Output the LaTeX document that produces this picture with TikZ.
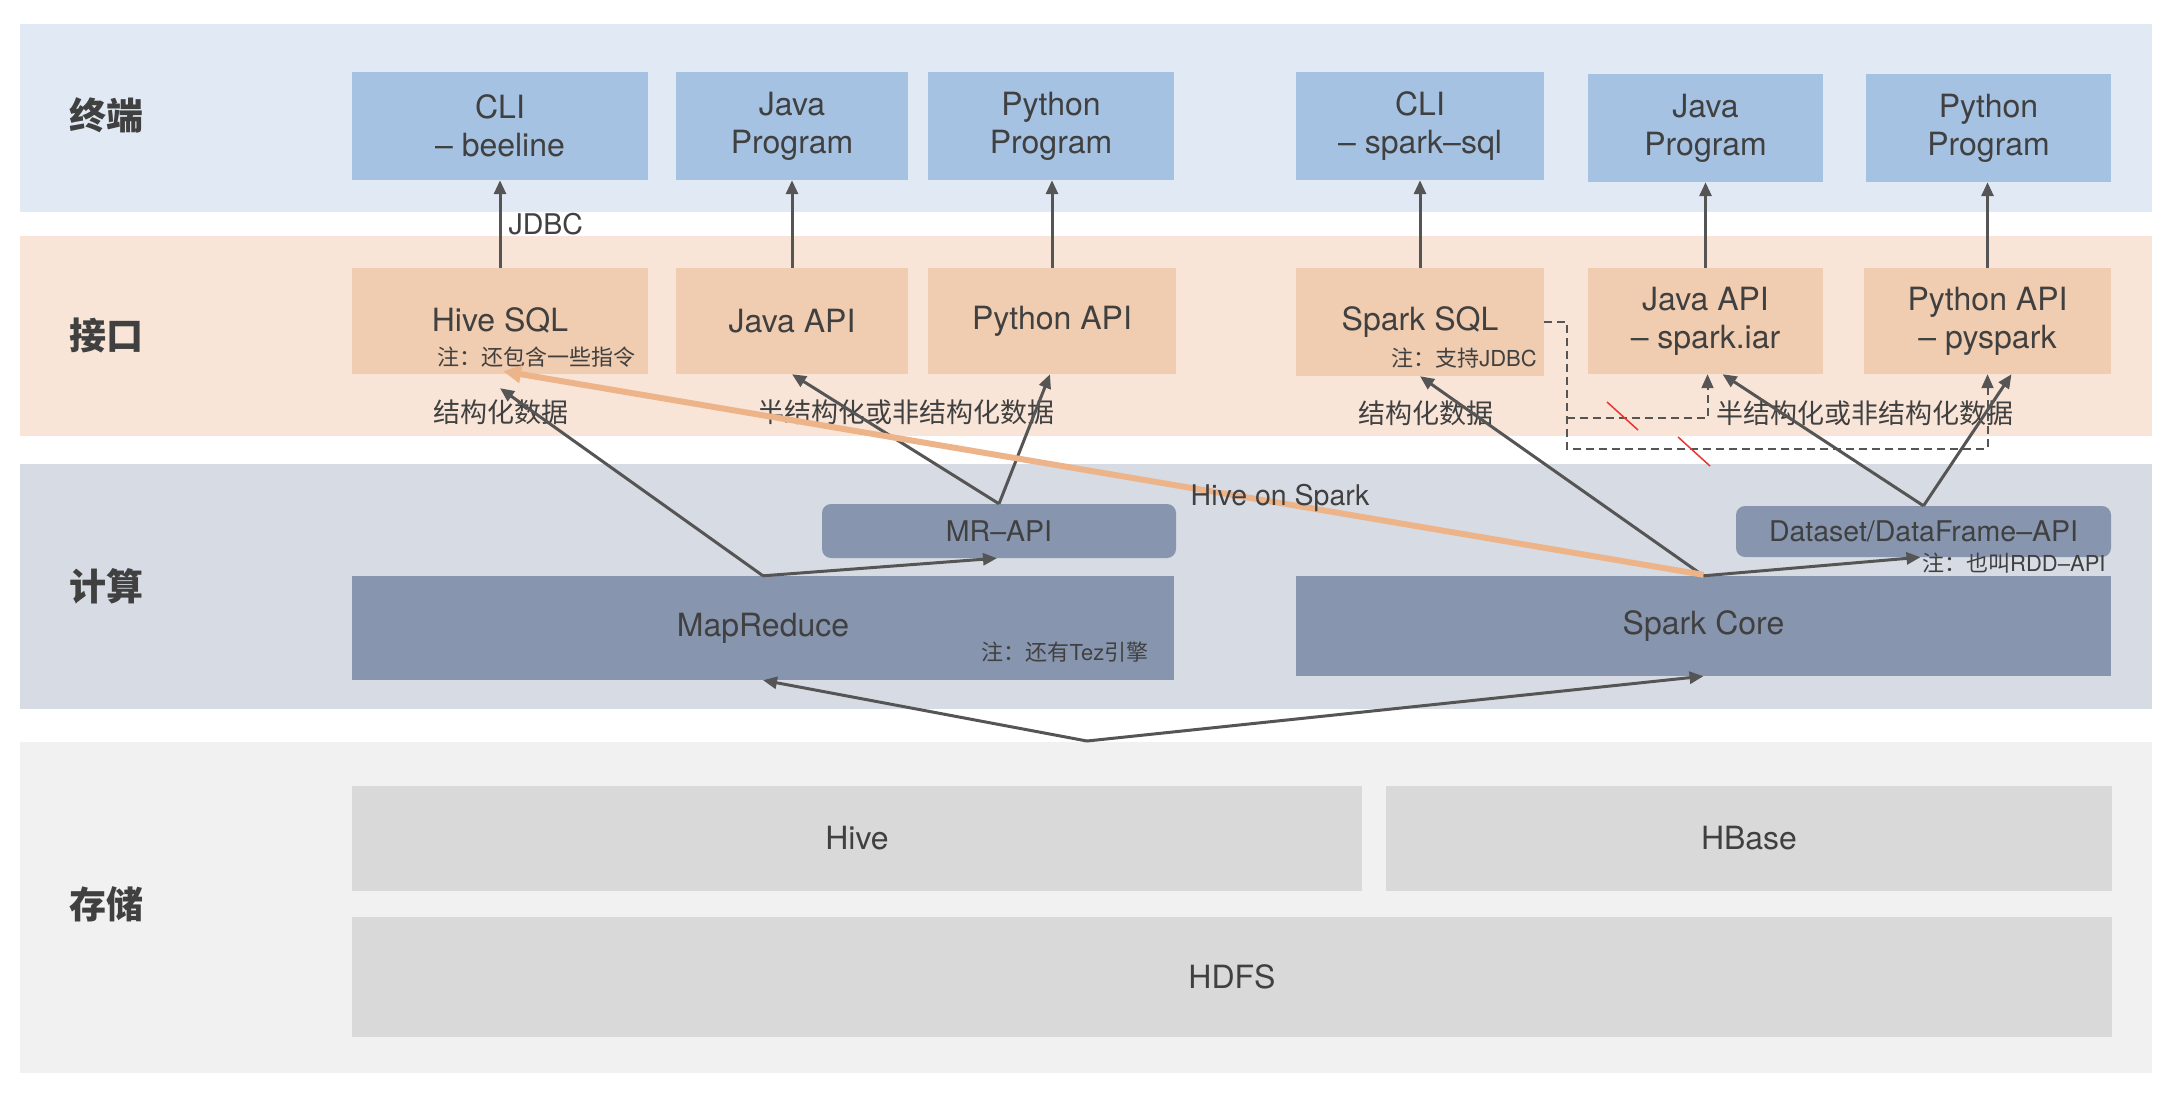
\documentclass[tikz,border=0pt]{standalone}
\usepackage{fontspec}
\setmainfont{TeX Gyre Heros}
\newfontfamily\cjk{Noto Sans CJK SC}
\usetikzlibrary{arrows.meta,calc}
\definecolor{bandT}{HTML}{E1EAF4}
\definecolor{bandI}{HTML}{F8E5D8}
\definecolor{bandC}{HTML}{D7DCE4}
\definecolor{bandS}{HTML}{F1F1F1}
\definecolor{boxT}{HTML}{A5C2E2}
\definecolor{boxI}{HTML}{F0CCB0}
\definecolor{boxC}{HTML}{8796AE}
\definecolor{boxS}{HTML}{D9D9D9}
\definecolor{txt}{HTML}{404040}
\definecolor{arr}{HTML}{555555}
\definecolor{org}{HTML}{EDB48A}
\definecolor{slash}{HTML}{E8352E}
\tikzset{
  blk/.style={fill=#1, draw=none, inner sep=0pt, align=center, text=txt,
    font=\fontsize{32}{38}\selectfont},
  lbl/.style={text=txt, inner sep=0pt, font=\fontsize{27}{32}\selectfont\cjk},
  small/.style={text=txt, inner sep=0pt, font=\fontsize{28.5}{32}\selectfont},
  notetxt/.style={text=txt, inner sep=0pt, font=\fontsize{22}{26}\selectfont},
  layer/.style={text=txt, inner sep=0pt, font=\fontsize{37}{44}\selectfont\cjk\bfseries},
  conn/.style={draw=arr, line width=3pt, -{Triangle[length=14pt,width=12pt]}},
  hos/.style={draw=org, line width=6pt, -{Triangle[length=18pt,width=17pt]}},
  dconn/.style={draw=arr, line width=2pt, dash pattern=on 8pt off 5pt,
    -{Triangle[length=14pt,width=12pt]}},
}
\begin{document}
\begin{tikzpicture}[x=1pt,y=-1pt]
\useasboundingbox[fill=white] (0,0) rectangle (2178,1104);
% bands
\fill[bandT] (20,24) rectangle (2152,212);
\fill[bandI] (20,236) rectangle (2152,436);
\fill[bandC] (20,464) rectangle (2152,709);
\fill[bandS] (20,742) rectangle (2152,1073);
% layer labels
\node[layer] (L1) at (106,115) {终端};
\node[layer] (L2) at (106,335) {接口};
\node[layer] (L3) at (106,586) {计算};
\node[layer] (L4) at (106,904) {存储};
% terminal boxes
\node[blk=boxT, minimum width=296pt, minimum height=108pt] (cli1) at (500,126) {CLI\\– beeline};
\node[blk=boxT, minimum width=232pt, minimum height=108pt] (jprog1) at (792,126) {Java\\Program};
\node[blk=boxT, minimum width=246pt, minimum height=108pt] (pprog1) at (1051,126) {Python\\Program};
\node[blk=boxT, minimum width=248pt, minimum height=108pt] (cli2) at (1420,126) {CLI\\– spark–sql};
\node[blk=boxT, minimum width=235pt, minimum height=108pt] (jprog2) at (1705.5,128) {Java\\Program};
\node[blk=boxT, minimum width=245pt, minimum height=108pt] (pprog2) at (1988.5,128) {Python\\Program};
% interface boxes
\node[blk=boxI, minimum width=296pt, minimum height=106pt] (hsql) at (500,321) {};
\node[blk=boxI, minimum width=232pt, minimum height=106pt] (japi1) at (792,321) {Java API};
\node[blk=boxI, minimum width=248pt, minimum height=106pt] (papi1) at (1052,321) {Python API};
\node[blk=boxI, minimum width=248pt, minimum height=108pt] (ssql) at (1420,322) {};
\node[blk=boxI, minimum width=235pt, minimum height=106pt] (japi2) at (1705.5,321) {Java API\\– spark.iar};
\node[blk=boxI, minimum width=247pt, minimum height=106pt] (papi2) at (1987.5,321) {Python API\\– pyspark};
\node[blk=boxI, fill=none] (hsqlT) at (500,320) {Hive SQL};
\node[notetxt] (hsqlN) at (536,357) {\cjk 注：还包含一些指令};
\node[blk=boxI, fill=none] (ssqlT) at (1420,322) {Spark SQL};
\node[notetxt] (ssqlN) at (1464,358) {{\cjk 注：支持}JDBC};
% compute boxes
\node[blk=boxC, minimum width=354pt, minimum height=54pt, rounded corners=9pt, font=\fontsize{28.5}{32}\selectfont] (mrapi) at (999,531) {MR–API};
\node[blk=boxC, minimum width=822pt, minimum height=104pt] (mr) at (763,628) {MapReduce};
\node[blk=boxC, minimum width=375pt, minimum height=51pt, rounded corners=9pt, font=\fontsize{28.5}{32}\selectfont] (dsapi) at (1923.5,531.5) {Dataset/DataFrame–API};
\node[blk=boxC, minimum width=815pt, minimum height=100pt] (score) at (1703.5,626) {Spark Core};
\node[notetxt] (mrN) at (1065,652) {{\cjk 注：还有}Tez{\cjk 引擎}};
\node[notetxt, anchor=west] (dsN) at (1922,563) {{\cjk 注：也叫}RDD–API};
% storage boxes
\node[blk=boxS, minimum width=1010pt, minimum height=105pt] (hive) at (857,838.5) {Hive};
\node[blk=boxS, minimum width=726pt, minimum height=105pt] (hbase) at (1749,838.5) {HBase};
\node[blk=boxS, minimum width=1760pt, minimum height=120pt] (hdfs) at (1232,977) {HDFS};
% data labels
\node[lbl] (sd1) at (501,412) {结构化数据};
\node[lbl] (ud1) at (906,412) {半结构化或非结构化数据};
\node[lbl] (sd2) at (1426,413) {结构化数据};
\node[lbl] (ud2) at (1865,413) {半结构化或非结构化数据};
% vertical arrows interface -> terminal
\draw[conn] (hsql.north) -- (cli1.south) node[midway, right, xshift=7pt, small] (jdbc) {JDBC};
\draw[conn] (japi1.north) -- (japi1.north |- jprog1.south);
\draw[conn] (papi1.north) -- (papi1.north |- pprog1.south);
\draw[conn] (ssql.north) -- (ssql.north |- cli2.south);
\draw[conn] (japi2.north) -- (japi2.north |- jprog2.south);
\draw[conn] (papi2.north) -- (papi2.north |- pprog2.south);
% compute -> interface
\draw[conn] (mr.north) -- ([yshift=-14pt]hsql.south);
\draw[conn] (mr.north) -- ([xshift=-2pt]mrapi.south);
\draw[conn] (mrapi.north) -- (japi1.south);
\draw[conn] (mrapi.north) -- ([xshift=-2pt]papi1.south);
\draw[conn] (score.north) -- (ssql.south);
\draw[conn] (score.north) -- ([xshift=-3pt]dsapi.south);
\draw[conn] (dsapi.north) -- ([xshift=17pt]japi2.south);
\draw[conn] (dsapi.north) -- ([xshift=24pt]papi2.south);
% dashed from Spark SQL
\coordinate (dj) at (1567,449);
\coordinate (dk) at (1567,418);
\draw[dconn] (ssql.east) -| (dj) -| (papi2.south);
\draw[dconn] (dk) -| ([xshift=2pt]japi2.south);
\draw[slash, line width=1.5pt] (1607,402) -- (1638,430);
\draw[slash, line width=1.5pt] (1678,437) -- (1710,466);
% storage -> compute
\coordinate (hub) at (1087,741);
\draw[conn] (hub) -- (mr.south);
\draw[conn] (hub) -- (score.south);
% Hive on Spark
\draw[hos] ([yshift=1pt]score.north) -- ([shift={(3pt,3pt)}]hsql.south);
\node[small] (hoslbl) at (1280,498) {Hive on Spark};
\end{tikzpicture}
\end{document}
